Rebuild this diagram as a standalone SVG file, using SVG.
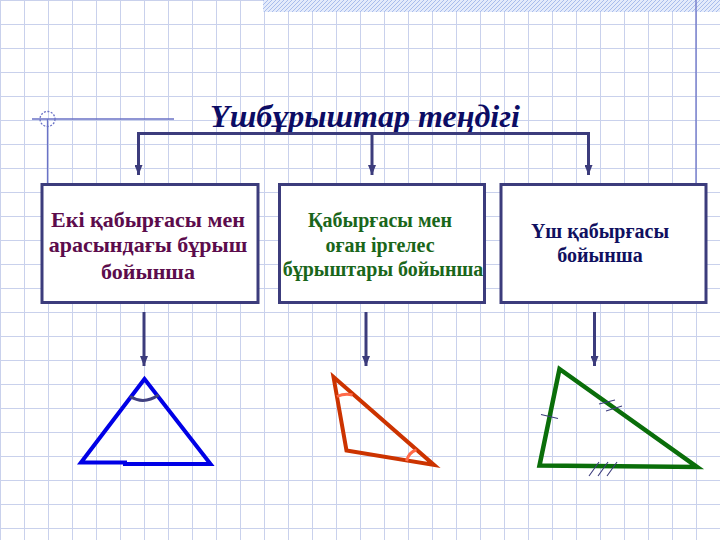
<svg xmlns="http://www.w3.org/2000/svg" width="720" height="540" viewBox="0 0 720 540">
<defs>
<pattern id="grid" width="24" height="24" patternUnits="userSpaceOnUse">
<path d="M0 0.5H24M0.5 0V24" fill="none" stroke="#c9d1ec" stroke-width="1"/>
</pattern>
<pattern id="hatch" width="4" height="4" patternUnits="userSpaceOnUse">
<rect width="4" height="4" fill="#e4ebfb"/>
<path d="M-1 1L1 -1M0 4L4 0M3 5L5 3" stroke="#a9bdec" stroke-width="1"/>
</pattern>
<marker id="ah" viewBox="0 0 10 8" refX="10" refY="4" markerWidth="10" markerHeight="8" markerUnits="userSpaceOnUse" orient="auto">
<path d="M0 0L10 4L0 8Z" fill="#3c3c7c"/>
</marker>
<style>
.conn{fill:none;stroke:#3c3c7c;stroke-width:3}
.box{fill:#ffffff;stroke:#3c3c7c;stroke-width:3}
.deco{fill:none;stroke:#6a72c6;stroke-width:1.3}
.t{font-family:"Liberation Serif","Times New Roman",serif;font-weight:bold;text-anchor:middle}
.tick{stroke:#3c3c7c;stroke-width:1.1;fill:none}
</style>
</defs>
<rect width="720" height="540" fill="#ffffff"/>
<rect width="720" height="540" fill="url(#grid)"/>
<rect x="263" y="0" width="457" height="12" fill="url(#hatch)"/>
<g id="decor">
<line class="deco" x1="32" y1="119" x2="174" y2="119"/>
<line class="deco" x1="47.5" y1="119" x2="47.5" y2="184"/>
<circle class="deco" cx="47.5" cy="119" r="7.5" stroke-dasharray="2 1.5"/>
<line class="deco" x1="696" y1="0" x2="696" y2="184"/>
</g>
<g id="title">
<text class="t" x="365" y="127" font-size="32" font-style="italic" fill="#0c0c64">Үшбұрыштар теңдігі</text>
</g>
<g id="connectors">
<path class="conn" d="M138.5 175V133.5H588.5V175" marker-end="url(#ah)"/>
<path class="conn" d="M138.5 133.5V175" marker-end="url(#ah)"/>
<path class="conn" d="M372 133.5V175" marker-end="url(#ah)"/>
<path class="conn" d="M144 312V366" marker-end="url(#ah)"/>
<path class="conn" d="M366 312V366" marker-end="url(#ah)"/>
<path class="conn" d="M594.5 312V366" marker-end="url(#ah)"/>
</g>
<g id="box1">
<rect class="box" x="42" y="184.5" width="216" height="118"/>
<text class="t" font-size="22" fill="#5c0c4c"><tspan x="148" y="227">Екі қабырғасы мен</tspan><tspan x="148" y="252">арасындағы бұрыш</tspan><tspan x="148" y="279">бойынша</tspan></text>
</g>
<g id="box2">
<rect class="box" x="279.5" y="184.5" width="205" height="118"/>
<text class="t" font-size="20" fill="#1a661a"><tspan x="380" y="227">Қабырғасы мен</tspan><tspan x="380" y="252">оған іргелес</tspan><tspan x="383" y="276">бұрыштары бойынша</tspan></text>
</g>
<g id="box3">
<rect class="box" x="501" y="184.5" width="205" height="118"/>
<text class="t" font-size="20" fill="#101060"><tspan x="600" y="238">Үш қабырғасы</tspan><tspan x="600" y="262">бойынша</tspan></text>
</g>
<g id="triangle1">
<path d="M144.5 379L81 462.5H125V464H210.5Z" fill="none" stroke="#0000e6" stroke-width="4" stroke-linejoin="miter"/>
<path d="M130 396.5Q144 405 158.5 395" fill="none" stroke="#404080" stroke-width="3"/>
</g>
<g id="triangle2">
<path d="M333.5 377L346.5 450.5L434 465Z" fill="none" stroke="#cc3300" stroke-width="4" stroke-linejoin="miter"/>
<path d="M337 396.5Q345 393 352.5 395" fill="none" stroke="#ff6a4a" stroke-width="3"/>
<path d="M406.5 461Q409 452 416.5 450" fill="none" stroke="#ff6a4a" stroke-width="3"/>
</g>
<g id="triangle3">
<path d="M559.5 369L539.5 465.5L697 467Z" fill="none" stroke="#0a6e0a" stroke-width="4.5" stroke-linejoin="miter"/>
<path class="tick" d="M541 414.5L558 418.5"/>
<path class="tick" d="M599 404L615 400M606 411L622 406"/>
<path class="tick" d="M589 476L599 462M598 476L608 462M607 476L617 462"/>
</g>
</svg>
